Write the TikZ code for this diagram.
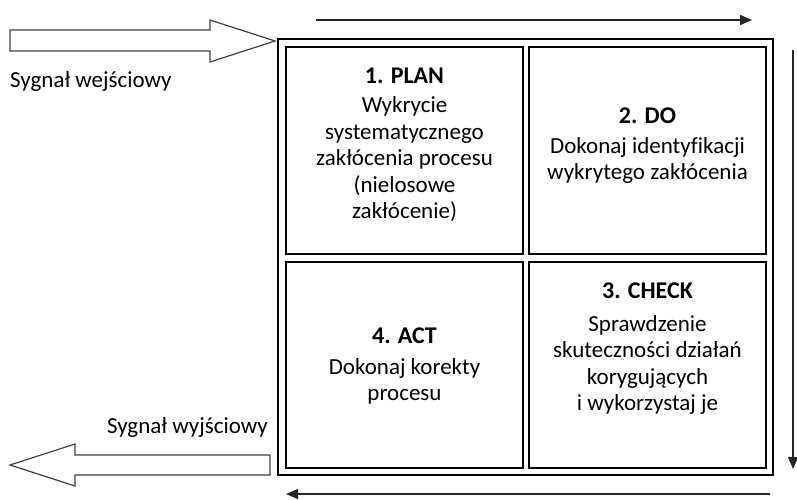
\documentclass[tikz,border=0pt]{standalone}
\usepackage{fontspec}
\setmainfont{Carlito}[Ligatures=NoCommon]
\usetikzlibrary{arrows.meta}
\newcommand{\celltitle}[1]{{\fontsize{24}{26.5}\selectfont\bfseries #1}}
\tikzset{
  cellbox/.style={draw=black, line width=2.6pt, inner sep=0pt},
  outerbox/.style={draw=black, line width=1.6pt},
  celltext/.style={align=center, inner sep=0pt, font=\fontsize{23}{26.5}\selectfont},
  flowarrow/.style={draw=black!85, line width=1.4pt, -{Triangle[length=12pt,width=10pt]}},
  hollowarrow/.style={draw=black!75, line width=1.2pt, fill=white, line join=miter},
  siglabel/.style={inner sep=0pt, font=\fontsize{23}{26}\selectfont}
}
\begin{document}
\begin{tikzpicture}[x=1pt,y=-1pt]
\useasboundingbox (0,0) rectangle (797,500);
% outer frame
\draw[outerbox] (278,39) rectangle (773,475);
% cells
\node[cellbox, minimum width=237pt, minimum height=207pt] (plan) at (404.5,150.5) {};
\node[cellbox, minimum width=237pt, minimum height=207pt] (do) at (647.5,150.5) {};
\node[cellbox, minimum width=237pt, minimum height=206pt] (act) at (404.5,365) {};
\node[cellbox, minimum width=237pt, minimum height=206pt] (check) at (647.5,365) {};
% cell texts
\node[celltext] (plantxt) at (404.5,145) {\celltitle{1. PLAN}\\[3pt]Wykrycie\\systematycznego\\zakłócenia procesu\\(nielosowe\\zakłócenie)};
\node[celltext] (dotxt) at (647.5,146) {\celltitle{2. DO}\\[3pt]Dokonaj identyf\kern0ptikacji\\wykrytego zakłócenia};
\node[celltext] (acttxt) at (404.5,366) {\celltitle{4. ACT}\\[4pt]Dokonaj korekty\\procesu};
\node[celltext] (checktxt) at (647.5,349) {\celltitle{3. CHECK}\\[6pt]Sprawdzenie\\skuteczności działań\\korygujących\\i wykorzystaj je};
% flow arrows around the frame
\coordinate (t1) at (316,20);
\coordinate (t2) at (752,20);
\coordinate (r1) at (793,50);
\coordinate (r2) at (793,469);
\coordinate (b1) at (770,494);
\coordinate (b2) at (286,494);
\draw[flowarrow] (t1) -- (t2);
\draw[flowarrow] (r1) -- (r2);
\draw[flowarrow] (b1) -- (b2);
% input signal arrow
\coordinate (intip) at (275,41);
\draw[hollowarrow] (10,30) -- (210,30) -- (210,20) -- (intip) -- (210,62) -- (210,51) -- (10,51) -- cycle;
\node[siglabel, anchor=base west] (inlbl) at (10,88) {Sygnał wejściowy};
% output signal arrow
\coordinate (outtip) at (10,465);
\draw[hollowarrow] (270,455) -- (75,455) -- (75,444) -- (outtip) -- (75,486) -- (75,475) -- (270,475) -- cycle;
\node[siglabel, anchor=base east] (outlbl) at (268,433) {Sygnał wyjściowy};
\end{tikzpicture}
\end{document}
